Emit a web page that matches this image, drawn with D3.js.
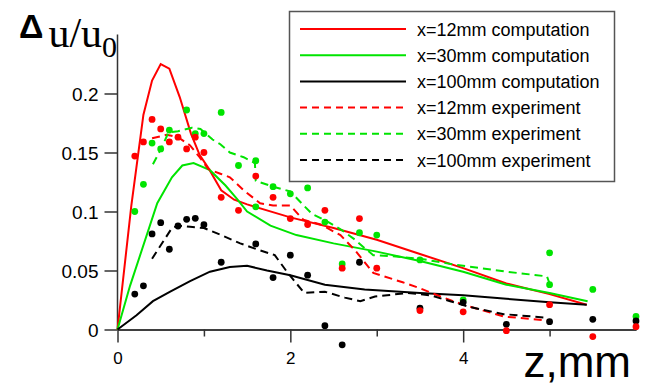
<!DOCTYPE html>
<html>
<head>
<meta charset="utf-8">
<script src="https://cdn.jsdelivr.net/npm/d3@7"></script>
<style>
  body { margin: 0; background: #fff; }
  svg { font-family: Arial, "Liberation Sans", sans-serif; }
</style>
</head>
<body>
<svg id="chart"></svg>
<script>
// computation curves [z, du/u0]
const comp12 = [[0,0],[0.16,0.105],[0.3,0.182],[0.4,0.211],[0.5,0.225],[0.6,0.221],[0.72,0.197],[0.85,0.166],[0.95,0.148],[1.05,0.137],[1.2,0.118],[1.35,0.110],[1.5,0.106],[2.0,0.095],[2.5,0.086],[3.0,0.076],[3.5,0.064],[4.0,0.052],[4.5,0.039],[5.0,0.030],[5.43,0.021]];
const comp30 = [[0,0],[0.145,0.037],[0.46,0.107],[0.63,0.129],[0.75,0.139],[0.88,0.141],[1.07,0.135],[1.25,0.122],[1.38,0.111],[1.5,0.100],[1.77,0.088],[2.07,0.080],[2.5,0.073],[3.0,0.066],[3.5,0.058],[4.0,0.049],[4.5,0.038],[5.0,0.031],[5.44,0.024]];
const comp100 = [[0,0],[0.22,0.012],[0.41,0.024],[0.61,0.032],[0.84,0.041],[1.07,0.049],[1.3,0.053],[1.5,0.054],[1.73,0.050],[2.0,0.046],[2.4,0.038],[2.86,0.034],[3.5,0.031],[4.0,0.029],[4.5,0.026],[5.0,0.023],[5.43,0.021]];

// experiment (averaged) curves
const expLine12 = [[0.4,0.162],[0.57,0.165],[0.7,0.163],[0.84,0.156],[0.95,0.146],[1.05,0.136],[1.19,0.132],[1.3,0.129],[1.46,0.118],[1.65,0.107],[1.8,0.105],[2.0,0.105],[2.15,0.093],[2.35,0.089],[2.58,0.080],[2.75,0.067],[2.96,0.048],[3.3,0.040],[3.5,0.035],[3.7,0.029],[4.0,0.021],[4.47,0.011],[5.0,0.0075]];
const expLine30 = [[0.41,0.140],[0.51,0.154],[0.59,0.167],[0.7,0.168],[0.86,0.171],[0.96,0.170],[1.1,0.161],[1.19,0.157],[1.3,0.150],[1.46,0.146],[1.59,0.141],[1.6,0.126],[1.8,0.121],[2.0,0.117],[2.13,0.107],[2.25,0.098],[2.44,0.091],[2.6,0.084],[2.75,0.076],[2.86,0.069],[2.96,0.063],[3.19,0.062],[3.5,0.060],[3.9,0.055],[4.2,0.052],[4.5,0.049],[4.97,0.045],[5.0,0.039]];
const expLine100 = [[0.4,0.060],[0.63,0.086],[0.7,0.088],[0.84,0.087],[1.0,0.086],[1.2,0.080],[1.42,0.073],[1.65,0.067],[1.82,0.063],[1.97,0.048],[2.16,0.031],[2.4,0.032],[2.63,0.027],[2.81,0.024],[2.98,0.028],[3.12,0.029],[3.35,0.031],[3.62,0.029],[3.85,0.024],[4.08,0.019],[4.47,0.013],[4.97,0.010]];

// measured points
const pts12 = [[0.2,0.147],[0.3,0.159],[0.4,0.178],[0.5,0.170],[0.6,0.159],[0.7,0.163],[0.8,0.153],[0.9,0.163],[1.0,0.150],[1.2,0.112],[1.4,0.101],[1.6,0.130],[1.8,0.112],[2.0,0.094],[2.2,0.089],[2.4,0.101],[2.6,0.052],[2.8,0.094],[3.0,0.052],[3.5,0.016],[4.0,0.015],[4.5,-0.001],[5.0,0.021],[5.5,-0.006],[6.0,0.0024]];
const pts30 = [[0.2,0.100],[0.3,0.123],[0.4,0.158],[0.5,0.153],[0.6,0.169],[0.8,0.186],[0.9,0.166],[1.0,0.166],[1.2,0.184],[1.4,0.139],[1.6,0.143],[1.6,0.104],[1.8,0.121],[2.0,0.115],[2.2,0.120],[2.4,0.091],[2.6,0.0555],[2.8,0.082],[3.0,0.080],[3.5,0.059],[4.0,0.025],[5.0,0.065],[5.0,0.038],[5.5,0.034],[6.0,0.011]];
const pts100 = [[0.2,0.030],[0.3,0.037],[0.4,0.081],[0.5,0.0905],[0.6,0.068],[0.7,0.0877],[0.8,0.0934],[0.9,0.0942],[1.0,0.0888],[1.2,0.057],[1.6,0.0725],[1.8,0.044],[2.0,0.063],[2.2,0.046],[2.4,0.0032],[2.6,-0.013],[2.8,0.057],[3.5,0.018],[4.0,0.023],[4.5,0.0044],[5.0,0.0066],[5.5,0.0086],[6.0,0.0072]];

const yTicks = [0, 0.05, 0.1, 0.15, 0.2];
const yTickLabels = ["0", "0.05", "0.1", "0.15", "0.2"];
const xTicks = [0, 2, 4];
const xTickLabels = ["0", "2", "4"];
const xMinorTicks = [1, 3, 5];

const legendLabels = ["x=12mm computation", "x=30mm computation", "x=100mm computation",
                      "x=12mm experiment", "x=30mm experiment", "x=100mm experiment"];

const red = "#ff0000", green = "#00e400", black = "#000000";

const width = 648, height = 385;
const svg = d3.select("#chart").attr("width", width).attr("height", height);

const x = d3.scaleLinear().domain([0, 6]).range([117.5, 636]);
const y = d3.scaleLinear().domain([0, 0.25]).range([329.5, 34.5]);

const line = d3.line().x(d => x(d[0])).y(d => y(d[1]));

// eixos
const axisColor = "#333";
const yAxis = svg.append("g")
  .attr("transform", `translate(${x(0)},0)`)
  .call(d3.axisLeft(y).tickValues(yTicks).tickSize(13).tickSizeOuter(0)
    .tickFormat((d, i) => yTickLabels[i]));
yAxis.select(".domain").attr("d", `M0,${y(0.25)}V${y(0)}`);

const xAxis = svg.append("g")
  .attr("transform", `translate(0,${y(0)})`)
  .call(d3.axisBottom(x).tickValues(xTicks).tickSize(13).tickSizeOuter(0)
    .tickFormat((d, i) => xTickLabels[i]));
svg.append("g")
  .attr("transform", `translate(0,${y(0)})`)
  .call(d3.axisBottom(x).tickValues(xMinorTicks).tickSize(7).tickSizeOuter(0).tickFormat(""));

svg.selectAll(".domain, .tick line").attr("stroke", axisColor).attr("stroke-width", 1.5);
yAxis.selectAll("text").attr("font-size", 19).attr("fill", "#000").attr("x", -19).attr("dy", "0.36em");
xAxis.selectAll("text").attr("font-size", 17).attr("fill", "#000").attr("dy", "0.85em").attr("y", 20);

// curvas
const series = [
  { data: comp12, color: red, dash: null },
  { data: comp30, color: green, dash: null },
  { data: comp100, color: black, dash: null },
  { data: expLine12, color: red, dash: "8,5" },
  { data: expLine30, color: green, dash: "8,5" },
  { data: expLine100, color: black, dash: "8,5" }
];

svg.selectAll("path.series")
  .data(series)
  .enter()
  .append("path")
  .attr("class", "series")
  .attr("fill", "none")
  .attr("stroke", d => d.color)
  .attr("stroke-width", 2)
  .attr("stroke-dasharray", d => d.dash)
  .attr("d", d => line(d.data));

// pontos
[[pts30, green], [pts100, black], [pts12, red]].forEach(([pts, color]) => {
  svg.append("g").selectAll("circle")
    .data(pts)
    .enter()
    .append("circle")
    .attr("cx", d => x(d[0]))
    .attr("cy", d => y(d[1]))
    .attr("r", 3.4)
    .attr("fill", color);
});

// legenda
const legend = svg.append("g");
legend.append("rect")
  .attr("x", 289.5).attr("y", 11.5).attr("width", 325).attr("height", 170)
  .attr("fill", "#fff").attr("stroke", "#555").attr("stroke-width", 1.5);
const rows = legend.selectAll("g.row")
  .data(series)
  .enter()
  .append("g")
  .attr("transform", (d, i) => `translate(300,${29 + i * 26.2})`);
rows.append("line")
  .attr("x1", 0).attr("x2", 106)
  .attr("stroke", d => d.color)
  .attr("stroke-width", 2)
  .attr("stroke-dasharray", d => d.dash ? "7,5" : null);
rows.append("text")
  .attr("x", 117).attr("y", 6.5)
  .attr("font-size", 18)
  .text((d, i) => legendLabels[i]);

// títulos dos eixos
const yTitle = svg.append("text").attr("x", 19).attr("y", 47);
yTitle.append("tspan").attr("font-size", 34).attr("font-weight", "bold").attr("dy", -9).text("\u0394");
yTitle.append("tspan").attr("font-family", "'Liberation Serif', 'Times New Roman', serif")
  .attr("font-size", 42).attr("dx", 5).attr("dy", 9).text("u/u");
yTitle.append("tspan").attr("font-family", "'Liberation Serif', 'Times New Roman', serif")
  .attr("font-size", 30).attr("dy", 10).text("0");

svg.append("text")
  .attr("x", 631).attr("y", 377)
  .attr("text-anchor", "end")
  .attr("font-size", 44)
  .text("z,mm");
</script>
</body>
</html>
